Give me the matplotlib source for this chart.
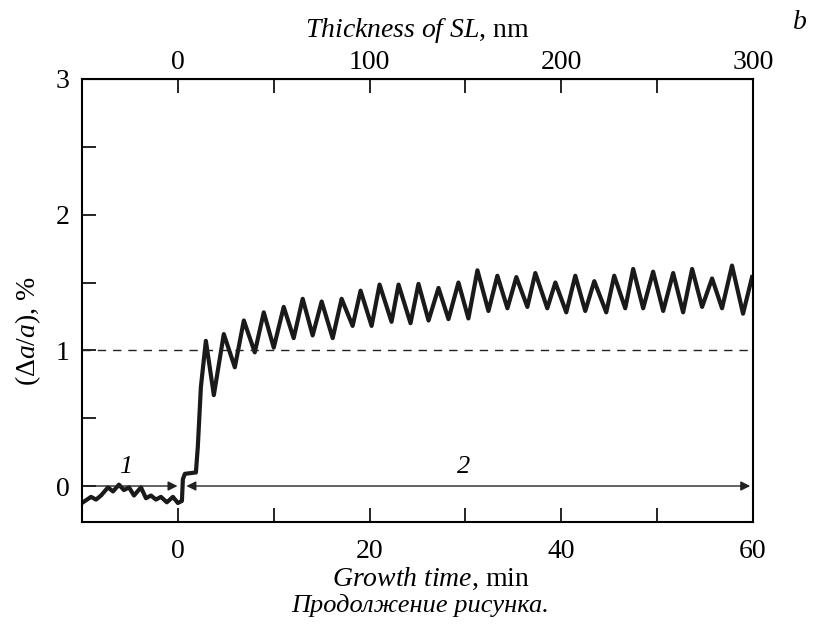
import numpy as np
import matplotlib.pyplot as plt
from matplotlib.ticker import MultipleLocator

plt.rcParams['font.family'] = ['Liberation Serif', 'DejaVu Serif']
plt.rcParams['mathtext.fontset'] = 'custom'
plt.rcParams['mathtext.rm'] = 'Liberation Serif'
plt.rcParams['mathtext.it'] = 'Liberation Serif:italic'

# growth time (min) and lattice mismatch (%)
time_min = [-9.9, -9.06, -8.54, -8.02, -7.29, -6.77, -6.15, -5.63, -5.10, -4.58,
            -3.85, -3.33, -2.81, -2.29, -1.77, -1.15, -0.52, 0.0, 0.42, 0.52,
            0.73, 1.88, 2.08, 2.40,
            2.92, 3.75, 4.79, 5.94, 6.88, 8.02, 8.96, 10.0, 11.04, 12.08,
            13.02, 14.06, 15.0, 16.15, 17.08, 18.23, 19.06, 20.21, 21.04, 22.29,
            23.02, 24.27, 25.10, 26.15, 27.19, 28.23, 29.27, 30.31, 31.25, 32.40,
            33.33, 34.38, 35.31, 36.46, 37.29, 38.54, 39.38, 40.52, 41.46, 42.50,
            43.44, 44.69, 45.52, 46.67, 47.50, 48.54, 49.58, 50.63, 51.67, 52.71,
            53.65, 54.69, 55.73, 56.77, 57.81, 58.96, 59.90]
mismatch = [-0.12, -0.08, -0.10, -0.07, -0.01, -0.04, 0.01, -0.03, -0.01, -0.07,
            -0.01, -0.09, -0.07, -0.10, -0.08, -0.12, -0.08, -0.125, -0.11, 0.05,
            0.09, 0.10, 0.29, 0.73,
            1.07, 0.67, 1.12, 0.875, 1.22, 0.985, 1.28, 1.02, 1.32, 1.09,
            1.38, 1.11, 1.36, 1.09, 1.38, 1.18, 1.44, 1.18, 1.485, 1.21,
            1.485, 1.20, 1.49, 1.22, 1.46, 1.23, 1.50, 1.235, 1.59, 1.29,
            1.55, 1.31, 1.54, 1.32, 1.57, 1.31, 1.50, 1.28, 1.55, 1.29,
            1.51, 1.28, 1.55, 1.31, 1.60, 1.31, 1.58, 1.29, 1.57, 1.28,
            1.60, 1.32, 1.53, 1.31, 1.625, 1.27, 1.54]

xlim = (-10, 60)
ylim = (-0.265, 3)
nm_per_min = 5.0

fig = plt.figure(figsize=(8.13, 6.33), dpi=100)
ax = fig.add_axes([0.1009, 0.1754, 0.8253, 0.6998])

ax.plot(time_min, mismatch, color='#1a1a1a', lw=3.0, solid_joinstyle='round')
ax.axhline(1, color='#222222', lw=1.0, ls=(0, (6, 5)))

# stage arrows
ax.annotate('', xy=(0.25, 0), xytext=(-10, 0),
            arrowprops=dict(arrowstyle='-|>', color='#222222', lw=1.0, mutation_scale=14))
ax.annotate('', xy=(60, 0), xytext=(0.6, 0),
            arrowprops=dict(arrowstyle='<|-|>', color='#222222', lw=1.0, mutation_scale=14))
ax.text(-5.4, 0.06, '1', fontsize=19, style='italic', ha='center', va='bottom')
ax.text(29.8, 0.06, '2', fontsize=19, style='italic', ha='center', va='bottom')

ax.set_xlim(*xlim)
ax.set_ylim(*ylim)
ax.set_xticks([0, 20, 40, 60])
ax.xaxis.set_minor_locator(MultipleLocator(10))
ax.set_yticks([0, 1, 2, 3])
ax.yaxis.set_minor_locator(MultipleLocator(0.5))
ax.tick_params(which='both', direction='in', length=10, width=1.2, labelsize=20,
               top=False, right=False)
ax.tick_params(axis='x', pad=12)
ax.tick_params(axis='y', pad=9)

for s in ax.spines.values():
    s.set_linewidth(1.5)

ax.set_xlabel(r'$\mathit{Growth\ time}$, min', fontsize=20)
ax.xaxis.set_label_coords(0.52, -0.100)
ax.set_ylabel(r'$(\Delta\mathit{a}/\mathit{a})$, %', fontsize=20)
ax.yaxis.set_label_coords(-0.058, 0.43)

top = ax.secondary_xaxis('top', functions=(lambda t: t * nm_per_min, lambda d: d / nm_per_min))
top.set_xticks([0, 100, 200, 300])
top.xaxis.set_minor_locator(MultipleLocator(50))
top.tick_params(which='both', direction='in', length=10, width=1.2, labelsize=20, pad=3)
top.set_xlabel(r'$\mathit{Thickness\ of\ SL}$, nm', fontsize=20, labelpad=9)

fig.text(0.993, 0.965, 'b', fontsize=20, style='italic', ha='right', va='center')
fig.text(0.517, 0.043, 'Продолжение рисунка.', fontsize=19, style='italic',
         ha='center', va='center')

fig.savefig('out.png', dpi=100)
